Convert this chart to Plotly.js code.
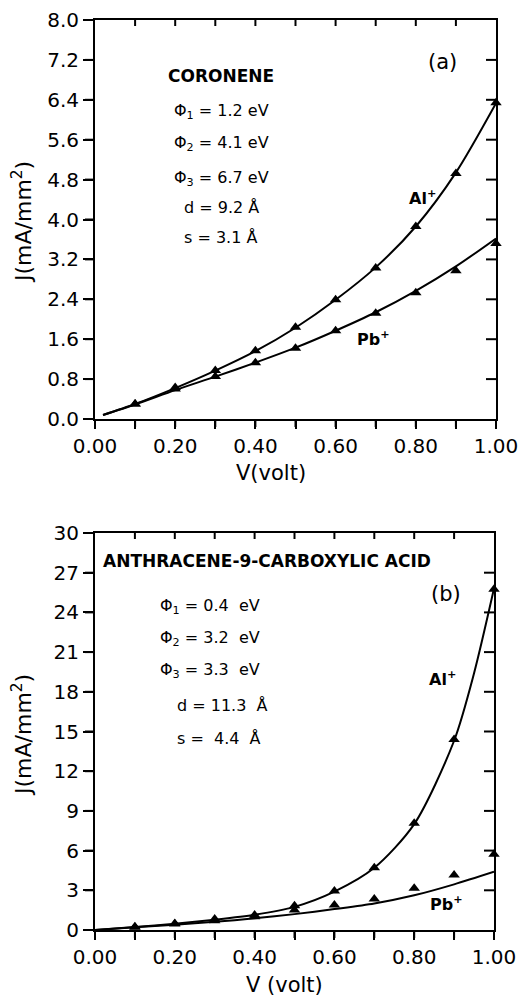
<!DOCTYPE html>
<html>
<head>
<meta charset="utf-8">
<script src="https://cdn.plot.ly/plotly-3.0.1.min.js"></script>
<style>html,body{margin:0;padding:0;background:#fff;}#plot{width:518px;height:996px;}</style>
</head>
<body>
<div id="plot"></div>
<script>
// ---- Data (a) Coronene ----
const V_pts = [0.1,0.2,0.3,0.4,0.5,0.6,0.7,0.8,0.9,1.0];
const a_Al_pts = [0.30,0.63,0.97,1.37,1.84,2.39,3.03,3.86,4.92,6.34];
const a_Pb_pts = [0.30,0.60,0.85,1.13,1.42,1.77,2.12,2.53,2.97,3.52];
const a_curveV = [0.02,0.1,0.2,0.3,0.4,0.5,0.6,0.7,0.8,0.9,1.0];
const a_Al_curve = [0.08,0.30,0.62,0.97,1.36,1.83,2.39,3.04,3.86,4.94,6.33];
const a_Pb_curve = [0.08,0.29,0.58,0.85,1.13,1.43,1.77,2.14,2.57,3.06,3.62];
// ---- Data (b) Anthracene-9-carboxylic acid ----
const b_Al_pts = [0.25,0.50,0.83,1.13,1.84,2.95,4.71,8.06,14.4,25.75];
const b_Pb_pts = [0.20,0.45,0.70,1.00,1.51,1.89,2.34,3.15,4.16,5.72];
const b_Al_curveV = [0,0.1,0.2,0.3,0.4,0.5,0.6,0.7,0.8,0.9,0.95,1.0];
const b_Al_curve = [0,0.22,0.48,0.78,1.15,1.75,2.9,4.7,8.0,14.3,19.4,25.8];
const b_Pb_curveV = [0,0.1,0.2,0.3,0.4,0.5,0.6,0.7,0.8,0.9,1.0];
const b_Pb_curve = [0,0.2,0.4,0.62,0.88,1.2,1.58,2.0,2.62,3.45,4.4];

const xTickVals = [0,0.1,0.2,0.3,0.4,0.5,0.6,0.7,0.8,0.9,1.0];
const xTickText = ['0.00','','0.20','','0.40','','0.60','','0.80','','1.00'];
const aYTickVals = [0,0.8,1.6,2.4,3.2,4.0,4.8,5.6,6.4,7.2,8.0];
const bYTickVals = [0,3,6,9,12,15,18,21,24,27,30];

const W = 518, H = 996;
const px = x => x / W;
const py = y => 1 - y / H;
const FONT = 'DejaVu Sans, sans-serif';

const mk = {symbol:'triangle-up', size:10, color:'#000'};
const ln = {color:'#000', width:2, shape:'spline', smoothing:0.8};

const traces = [
  {x:a_curveV, y:a_Al_curve, mode:'lines', line:ln, xaxis:'x', yaxis:'y', hoverinfo:'skip'},
  {x:a_curveV, y:a_Pb_curve, mode:'lines', line:ln, xaxis:'x', yaxis:'y', hoverinfo:'skip'},
  {x:V_pts, y:a_Al_pts, mode:'markers', marker:mk, xaxis:'x', yaxis:'y', cliponaxis:false},
  {x:V_pts, y:a_Pb_pts, mode:'markers', marker:mk, xaxis:'x', yaxis:'y', cliponaxis:false},
  {x:b_Al_curveV, y:b_Al_curve, mode:'lines', line:ln, xaxis:'x2', yaxis:'y2', hoverinfo:'skip'},
  {x:b_Pb_curveV, y:b_Pb_curve, mode:'lines', line:ln, xaxis:'x2', yaxis:'y2', hoverinfo:'skip'},
  {x:V_pts, y:b_Al_pts, mode:'markers', marker:mk, xaxis:'x2', yaxis:'y2', cliponaxis:false},
  {x:V_pts, y:b_Pb_pts, mode:'markers', marker:mk, xaxis:'x2', yaxis:'y2', cliponaxis:false}
];

const aDomX = [px(95), px(496)];
const aDomY = [py(419), py(20)];
const bDomX = [px(95), px(494)];
const bDomY = [py(930), py(533)];

function bottomX(dom, anchor){
  return {domain:dom, anchor:anchor, range:[0,1], showgrid:false, zeroline:false,
    showline:true, mirror:true, linecolor:'#000', linewidth:2,
    tickmode:'array', tickvals:xTickVals, ticktext:xTickText,
    ticks:'outside', ticklen:8, tickwidth:2, tickcolor:'#000',
    ticklabeloverflow:'allow',
    tickfont:{family:FONT, size:20, color:'#000'}, fixedrange:true};
}
function leftY(dom, anchor, range, vals, fmt){
  return {domain:dom, anchor:anchor, range:range, showgrid:false, zeroline:false,
    showline:true, mirror:true, linecolor:'#000', linewidth:2,
    tickmode:'array', tickvals:vals, tickformat:fmt,
    ticks:'outside', ticklen:10, tickwidth:2, tickcolor:'#000',
    ticklabeloverflow:'allow',
    tickfont:{family:FONT, size:20, color:'#000'}, fixedrange:true};
}

// Tick marks as axis-referenced shapes (positions come from the tick arrays,
// lengths in pixels): bottom/left outside, top/right inside.
const tickLine = {color:'#000', width:2};
function xTicks(xa, ya, vals, anchor, len){
  return vals.map(v => ({type:'line', xref:xa, yref:ya+' domain', ysizemode:'pixel', yanchor:anchor,
    x0:v, x1:v, y0:0, y1:len, line:tickLine, layer:'above'}));
}
function yTicks(xa, ya, vals, anchor, len){
  return vals.map(v => ({type:'line', xref:xa+' domain', yref:ya, xsizemode:'pixel', xanchor:anchor,
    y0:v, y1:v, x0:0, x1:len, line:tickLine, layer:'above'}));
}
const inner = a => a.slice(1, -1);
const shapes = [].concat(
  xTicks('x', 'y', xTickVals, 0, -8),
  xTicks('x', 'y', inner(xTickVals), 1, -6),
  yTicks('x', 'y', aYTickVals, 0, -10),
  yTicks('x', 'y', inner(aYTickVals), 1, -10),
  xTicks('x2', 'y2', xTickVals, 0, -8),
  xTicks('x2', 'y2', inner(xTickVals), 1, -6),
  yTicks('x2', 'y2', bYTickVals, 0, -10),
  yTicks('x2', 'y2', inner(bYTickVals), 1, -10)
);

function ann(text, x, y, size, opts){
  return Object.assign({text:text, x:px(x), y:py(y), xref:'paper', yref:'paper',
    showarrow:false, xanchor:'left', yanchor:'middle',
    font:{family:FONT, size:size, color:'#000'}}, opts||{});
}

const annotations = [
  // Panel (a)
  ann('<b>CORONENE</b>', 166, 76, 17),
  ann('(a)', 426, 62, 21),
  ann('Φ<sub>1</sub> = 1.2 eV', 172, 112, 16),
  ann('Φ<sub>2</sub> = 4.1 eV', 172, 143, 16),
  ann('Φ<sub>3</sub> = 6.7 eV', 172, 178, 16),
  ann('d = 9.2 Å', 182, 207, 16),
  ann('s = 3.1 Å', 182, 238, 16),
  ann('<b>Al<sup>+</sup></b>', 407, 197, 16),
  ann('<b>Pb<sup>+</sup></b>', 355, 338, 16),
  ann('V(volt)', 271, 473, 21, {xanchor:'center'}),
  ann('J(mA/mm<sup>2</sup>)', 22, 222, 22, {xanchor:'center', textangle:-90}),
  // Panel (b)
  ann('<b>ANTHRACENE-9-CARBOXYLIC ACID</b>', 101, 561, 17),
  ann('(b)', 429, 594, 21),
  ann('Φ<sub>1</sub> = 0.4  eV', 158, 606, 16),
  ann('Φ<sub>2</sub> = 3.2  eV', 158, 638, 16),
  ann('Φ<sub>3</sub> = 3.3  eV', 158, 670, 16),
  ann('d = 11.3  Å', 175, 705, 16),
  ann('s =  4.4  Å', 175, 738, 16),
  ann('<b>Al<sup>+</sup></b>', 427, 678, 16),
  ann('<b>Pb<sup>+</sup></b>', 428, 903, 16),
  ann('V (volt)', 284, 985, 21, {xanchor:'center'}),
  ann('J(mA/mm<sup>2</sup>)', 22, 735, 22, {xanchor:'center', textangle:-90})
];

const layout = {
  width:W, height:H, margin:{l:0, r:0, t:0, b:0},
  plot_bgcolor:'rgba(0,0,0,0)',
  showlegend:false,
  xaxis: bottomX(aDomX, 'y'),
  yaxis: leftY(aDomY, 'x', [0,8], aYTickVals, '.1f'),
  xaxis2: bottomX(bDomX, 'y2'),
  yaxis2: leftY(bDomY, 'x2', [0,30], bYTickVals, 'd'),
  shapes: shapes,
  annotations: annotations
};

Plotly.newPlot('plot', traces, layout, {staticPlot:true});
</script>
</body>
</html>
